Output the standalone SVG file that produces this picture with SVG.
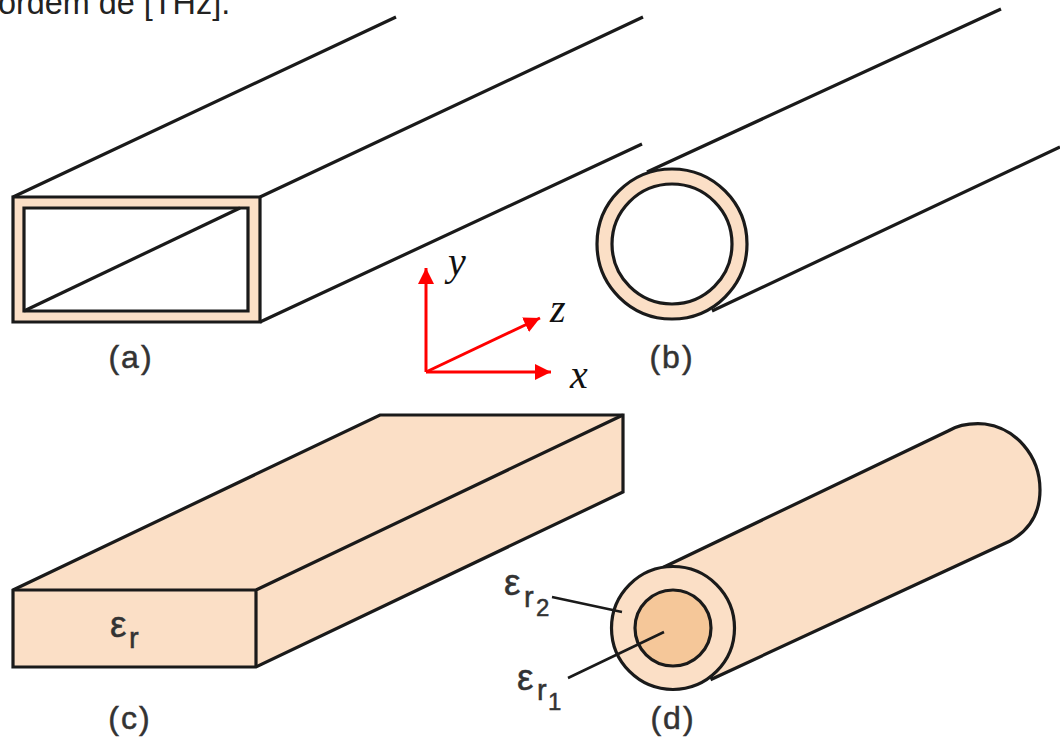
<svg xmlns="http://www.w3.org/2000/svg" width="1060" height="737" viewBox="0 0 1060 737">
<defs>
<marker id="ah" markerUnits="userSpaceOnUse" markerWidth="16" markerHeight="16" refX="16" refY="8" orient="auto"><path d="M0,0L16,8L0,16Z" fill="#ff0000"/></marker>
</defs>
<style>
.k{stroke:#1a1a1a;stroke-width:3.200;fill:none;stroke-linejoin:miter}
.f{fill:#fbdfc6}
.w{fill:#fff}
.o{fill:#f5c799}
.t{font-family:"Liberation Sans",Arial,sans-serif;fill:#333;stroke:#333;stroke-width:.5}
.lab{font-size:32px;text-anchor:middle;letter-spacing:2px}
.ep{font-size:37px}
.su{font-size:29px}
.dg{font-size:24px}
.e{font-family:"Liberation Serif",serif;font-style:italic;font-size:40px;fill:#111}
.r{stroke:#ff0000;stroke-width:3;fill:none;marker-end:url(#ah)}
.h{stroke-width:2.600}
</style>
<rect width="1060" height="737" fill="#fff"/>
<text id="caption" x="-2" y="14" font-family="Liberation Sans,Arial,sans-serif" font-size="32.400" fill="#222">ordem de [THz].</text>
<g id="a">
<path class="k" d="M13,197L396,17M260,197L643,17M260,322L642,144"/>
<path class="k f" fill-rule="evenodd" d="M13,197H260V322H13ZM24,208V311H248V208Z"/>
<path class="k" d="M24,311L240,208"/>
<text class="t lab" x="131" y="368">(a)</text>
</g>
<g id="b">
<path class="k" d="M647,172L1001,9M712,311L1060,147"/>
<circle class="k f" cx="672" cy="244" r="75"/>
<circle class="k w" cx="672" cy="244" r="60"/>
<text class="t lab" x="672" y="368">(b)</text>
</g>
<g id="axes">
<path class="r" d="M426,372V268"/>
<path class="r" d="M426,372L540,318"/>
<path class="r" d="M426,372H551"/>
<text class="e" x="448" y="275">y</text>
<text class="e" x="550" y="322">z</text>
<text class="e" x="570" y="388">x</text>
</g>
<g id="c">
<path class="k f" d="M13,590L380,415H623V492L256,667H13Z"/>
<path class="k" d="M13,590H256V667M256,590L623,415"/>
<text class="t ep" x="110" y="637">ε</text>
<text class="t su" x="129" y="648">r</text>
<text class="t lab" x="130" y="729">(c)</text>
</g>
<g id="d">
<path class="k f" d="M664,567L948,431C960,424 972,423 985,424C1015,428 1040,455 1040,490C1040,515 1028,531 1010,541L712,679Z"/>
<circle class="k f" cx="673" cy="628" r="61.500"/>
<circle class="k o" cx="673" cy="628" r="38"/>
<path class="k h" d="M552,597L622,612M568,678L664,632"/>
<text class="t ep" x="504" y="595">ε</text>
<text class="t su" x="524" y="607">r</text>
<text class="t dg" x="536" y="616">2</text>
<text class="t ep" x="517" y="690">ε</text>
<text class="t su" x="537" y="700">r</text>
<text class="t dg" x="548" y="710">1</text>
<text class="t lab" x="673" y="729">(d)</text>
</g>
</svg>
